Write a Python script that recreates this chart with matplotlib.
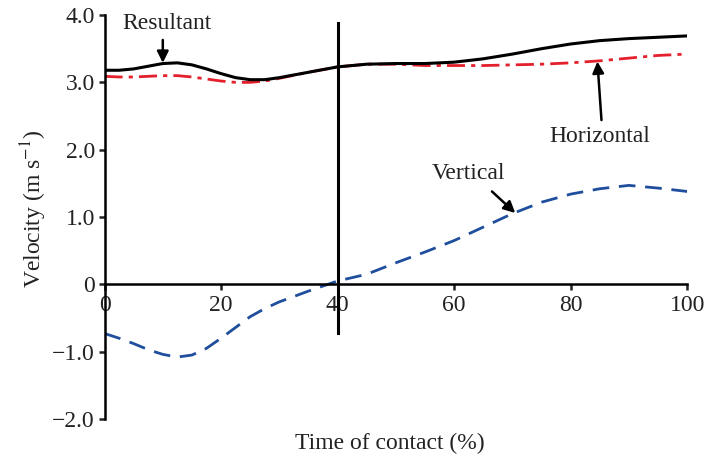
import matplotlib.pyplot as plt

plt.rcParams['font.family'] = ['Liberation Serif', 'DejaVu Serif']
plt.rcParams['mathtext.fontset'] = 'stix'

# time of contact (%)
t = [0, 2.5, 5, 7.5, 10, 12.5, 15, 17.5, 20, 22.5, 25, 27.5, 30, 35, 40, 45, 50, 55,
     60, 65, 70, 75, 80, 85, 90, 95, 100]
resultant = [3.18, 3.18, 3.20, 3.24, 3.28, 3.29, 3.26, 3.20, 3.13, 3.07, 3.04, 3.04, 3.07,
             3.15, 3.23, 3.27, 3.28, 3.28, 3.30, 3.35, 3.42, 3.50, 3.57, 3.62, 3.65, 3.67, 3.69]
horizontal = [3.09, 3.08, 3.08, 3.09, 3.10, 3.10, 3.08, 3.05, 3.02, 3.00, 3.00, 3.02, 3.06,
              3.15, 3.23, 3.27, 3.27, 3.25, 3.25, 3.25, 3.26, 3.27, 3.29, 3.32, 3.36, 3.40, 3.42]
vertical = [-0.73, -0.80, -0.88, -0.97, -1.04, -1.08, -1.05, -0.95, -0.80, -0.64, -0.48,
            -0.36, -0.26, -0.10, 0.05, 0.15, 0.32, 0.48, 0.65, 0.85, 1.05, 1.22, 1.34, 1.42,
            1.47, 1.43, 1.38]

xticks = [0, 20, 40, 60, 80, 100]
yticks = [-2.0, -1.0, 0, 1.0, 2.0, 3.0, 4.0]
ylabels = ['\u22122.0', '\u22121.0', '0', '1.0', '2.0', '3.0', '4.0']

fig = plt.figure(figsize=(7.21, 4.63), dpi=100)
ax = fig.add_axes([0.145, 0.095, 0.808, 0.8725])

ax.plot(t, vertical, color='#1f4e9c', lw=2, dashes=(6, 3.5))
ax.plot(t, horizontal, color='#e3202b', lw=2, dashes=(6.5, 2.2, 1.5, 2.2))
ax.plot(t, resultant, color='black', lw=2.2)
ax.plot([40, 40], [3.886, -0.72], color='black', lw=2.2)

ax.set_xlim(0, 100)
ax.set_ylim(-2, 4)
ax.spines['top'].set_visible(False)
ax.spines['right'].set_visible(False)
ax.spines['bottom'].set_position(('data', 0))
ax.spines['left'].set_linewidth(1.8)
ax.spines['bottom'].set_linewidth(1.8)
ax.set_xticks(xticks)
ax.set_xticklabels([str(v) for v in xticks])
ax.set_yticks(yticks)
ax.set_yticklabels(ylabels)
ax.tick_params(axis='both', labelsize=17, width=1.8, length=4, colors='#222222')
ax.tick_params(axis='x', pad=4)
ax.tick_params(axis='y', pad=3)

ax.set_xlabel('Time of contact (%)', fontsize=17, color='#222222')
ax.xaxis.set_label_coords(0.49, -0.035)
ax.set_ylabel('Velocity (m s$^{-1}$)', fontsize=17, color='#222222')
ax.yaxis.set_label_coords(-0.095, 0.52)

arrow = dict(arrowstyle='-|>', color='black', lw=1.8, mutation_scale=17, shrinkA=0, shrinkB=0)
ax.text(10.8, 3.88, 'Resultant', fontsize=17, ha='center', va='center', color='#222222')
ax.annotate('', xy=(10, 3.29), xytext=(10, 3.63), arrowprops=arrow)
ax.annotate('', xy=(84.6, 3.31), xytext=(85.3, 2.44), arrowprops=arrow)
ax.text(85, 2.19, 'Horizontal', fontsize=17, ha='center', va='center', color='#222222')
ax.annotate('', xy=(70.5, 1.06), xytext=(66.5, 1.38), arrowprops=arrow)
ax.text(62.5, 1.65, 'Vertical', fontsize=17, ha='center', va='center', color='#222222')

fig.savefig('out.png', dpi=100)
